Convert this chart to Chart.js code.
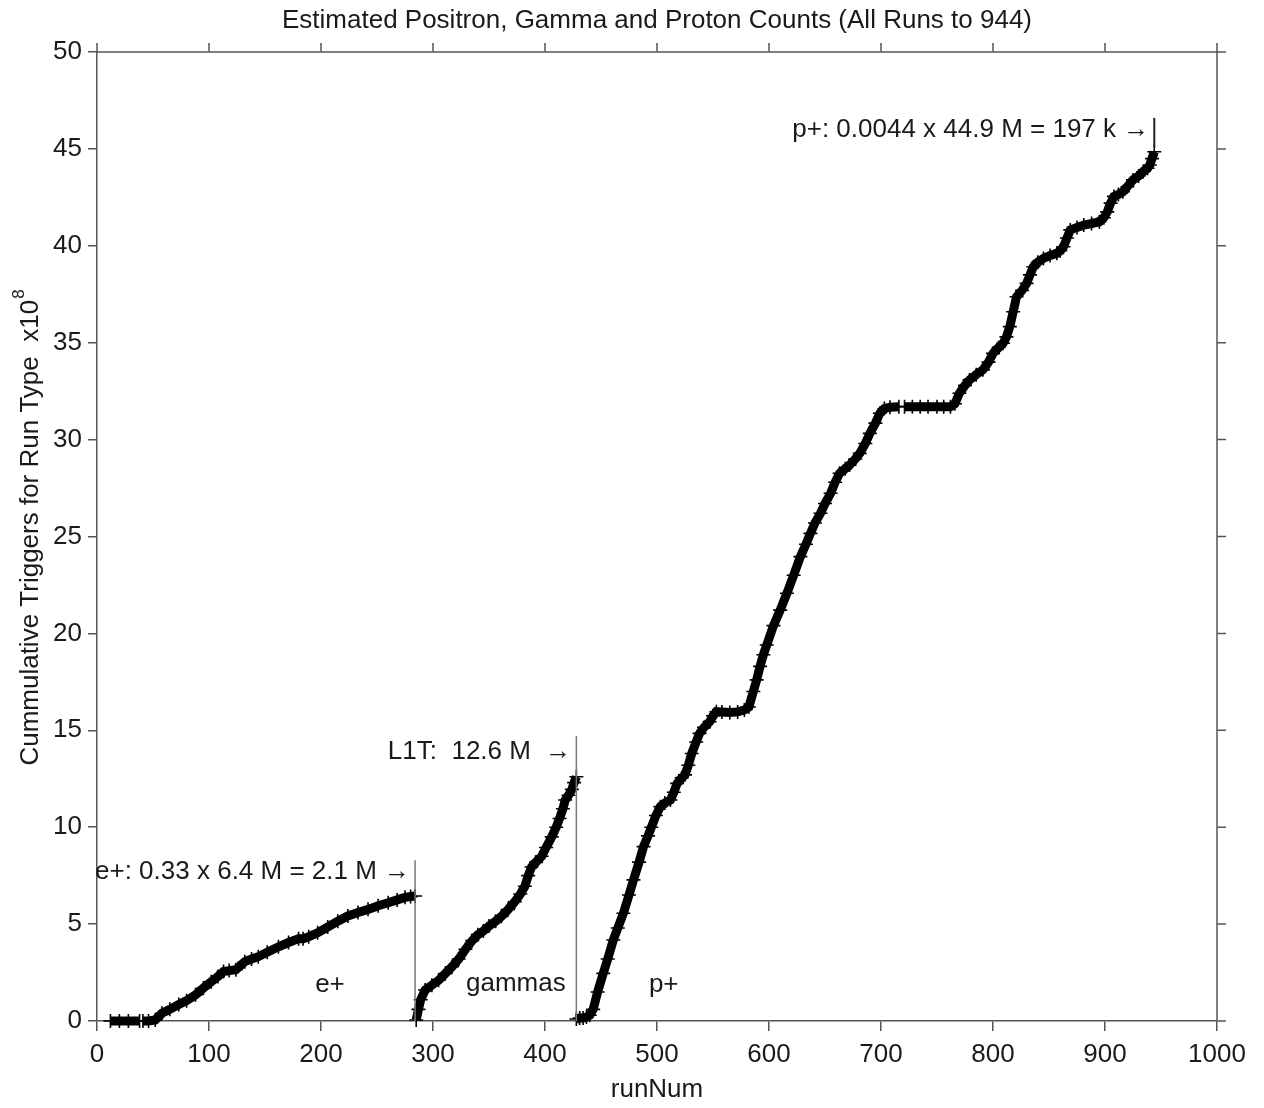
<!DOCTYPE html>
<html>
<head>
<meta charset="utf-8">
<title>Estimated Positron, Gamma and Proton Counts</title>
<script src="https://cdn.jsdelivr.net/npm/chart.js@4.4.1/dist/chart.umd.min.js"></script>
<style>
  html, body { margin: 0; padding: 0; background: #fff; }
  #wrap { width: 1264px; height: 1108px; position: relative; }
</style>
</head>
<body>
<div id="wrap"><canvas id="triggerChart" width="1264" height="1108"></canvas></div>
<script>
// cumulative triggers (x10^6) per run type, read run by run
const positronRuns = [12, 20, 28, 38, 39, 41, 46, 52, 58, 65, 73, 80, 88, 95, 102, 108, 113, 118, 124, 132, 138, 144, 152, 162, 171, 180, 184, 189, 197, 206, 215, 224, 233, 242, 251, 260, 268, 275, 280, 284];
const positronCounts = [0, 0, 0, 0, null, 0, 0, 0.05, 0.4, 0.6, 0.85, 1.05, 1.35, 1.7, 2.03, 2.3, 2.55, 2.6, 2.65, 3.06, 3.2, 3.32, 3.55, 3.83, 4.05, 4.25, 4.25, 4.35, 4.55, 4.85, 5.15, 5.42, 5.6, 5.76, 5.95, 6.1, 6.25, 6.38, 6.42, 6.45];

const gammaRuns = [285, 287, 289, 293, 299, 305, 311, 317, 323, 329, 335, 340, 345, 350, 356, 361, 367, 373, 378, 382, 385, 388, 392, 397, 401, 406, 410, 413, 416, 418, 421, 424, 426, 428];
const gammaCounts = [0.05, 0.6, 1.1, 1.6, 1.85, 2.1, 2.45, 2.8, 3.2, 3.7, 4.15, 4.45, 4.65, 4.9, 5.15, 5.4, 5.75, 6.15, 6.55, 6.95, 7.5, 7.95, 8.2, 8.5, 8.95, 9.5, 10.0, 10.45, 10.95, 11.4, 11.65, 11.95, 12.3, 12.6];

const protonRuns = [428, 431, 434, 437, 440, 443, 447, 452, 456, 461, 465, 470, 475, 479, 484, 488, 492, 495, 499, 503, 507, 512, 515, 518, 522, 525, 528, 531, 535, 538, 542, 547, 550, 553, 558, 565, 572, 578, 582, 586, 589, 592, 595, 598, 604, 610, 616, 622, 628, 633, 637, 641, 646, 650, 655, 659, 663, 668, 672, 677, 681, 686, 690, 695, 699, 703, 708, 716, 718, 721, 728, 735, 742, 750, 756, 762, 766, 770, 775, 779, 785, 791, 796, 800, 805, 809, 812, 815, 818, 821, 826, 830, 833, 836, 840, 845, 851, 857, 860, 863, 866, 869, 875, 881, 888, 895, 899, 902, 905, 908, 912, 916, 920, 925, 930, 934, 938, 940, 942, 944];
const protonCounts = [0.1, 0.15, 0.15, 0.2, 0.3, 0.6, 1.5, 2.46, 3.2, 4.18, 4.8, 5.56, 6.5, 7.28, 8.2, 9.0, 9.55, 10.0, 10.6, 11.06, 11.25, 11.4, 11.8, 12.26, 12.55, 12.7, 13.2, 13.8, 14.4, 14.84, 15.15, 15.44, 15.75, 15.96, 15.95, 15.92, 15.95, 16.05, 16.2, 17.0, 17.6, 18.3, 18.9, 19.4, 20.4, 21.2, 22.07, 23.0, 23.96, 24.6, 25.16, 25.7, 26.2, 26.7, 27.23, 27.8, 28.26, 28.5, 28.69, 29.0, 29.29, 29.8, 30.32, 30.85, 31.36, 31.6, 31.67, 31.7, null, 31.7, 31.7, 31.7, 31.7, 31.7, 31.7, 31.7, 31.85, 32.39, 32.8, 33.08, 33.35, 33.6, 34.0, 34.45, 34.75, 34.97, 35.3, 35.83, 36.6, 37.37, 37.7, 38.06, 38.5, 38.92, 39.15, 39.35, 39.5, 39.61, 39.75, 39.95, 40.4, 40.82, 40.95, 41.07, 41.15, 41.24, 41.45, 41.75, 42.2, 42.55, 42.65, 42.79, 43.05, 43.4, 43.6, 43.82, 44.0, 44.17, 44.5, 44.85];

// end-of-type markers: run, top of marker bar, bottom of bar
const markerRuns = [284, 428, 944];
const markerTops = [8.3, 14.7, 46.6];
const markerBottoms = [0, 0, 45.1];

// annotation text per marker (placed left of the bar), and its height on the y axis
const markerTexts = ['e+: 0.33 x 6.4 M = 2.1 M \u2192', 'L1T:  12.6 M  \u2192', 'p+: 0.0044 x 44.9 M = 197 k \u2192'];
const markerTextY = [7.7, 13.9, 46.0];

// run type names written under each curve
const typeNames = ['e+', 'gammas', 'p+'];
const typeNameRuns = [208, 374, 506];
const typeNameY = [1.85, 1.9, 1.85];

const xTicks = [0, 100, 200, 300, 400, 500, 600, 700, 800, 900, 1000];
const yTicks = [0, 5, 10, 15, 20, 25, 30, 35, 40, 45, 50];

const FONT = "'Liberation Sans', Arial, Helvetica, sans-serif";
const INK = '#1a1a1a';
const FRAME = '#555555';

function toPoints(runs, counts) {
    return runs.map((r, i) => ({ x: r, y: counts[i] }));
}

function curveDataset(runs, counts) {
    return {
        data: toPoints(runs, counts),
        borderColor: '#000',
        backgroundColor: '#000',
        borderWidth: 9,
        pointStyle: 'cross',
        pointRadius: 7,
        pointBorderWidth: 1.6,
        pointBorderColor: '#000',
        spanGaps: false,
        clip: 12,
        tension: 0
    };
}

const markerDatasets = markerRuns.map((r, i) => ({
    data: [{ x: r, y: markerBottoms[i] }, { x: r, y: markerTops[i] }],
    borderColor: i === 2 ? '#222' : '#777',
    borderWidth: i === 2 ? 2 : 1.5,
    pointRadius: 0
}));

// text, frame and mirrored tick marks drawn on top of the chart
const decorPlugin = {
    id: 'decor',
    afterDraw(chart) {
        const ctx = chart.ctx;
        const xs = chart.scales.x;
        const ys = chart.scales.y;
        const area = chart.chartArea;
        ctx.save();

        // right and top frame lines with outward ticks
        ctx.strokeStyle = FRAME;
        ctx.lineWidth = 1.5;
        ctx.beginPath();
        ctx.moveTo(area.left, area.top);
        ctx.lineTo(area.right, area.top);
        ctx.lineTo(area.right, area.bottom);
        xTicks.forEach(v => {
            const px = xs.getPixelForValue(v);
            ctx.moveTo(px, area.top);
            ctx.lineTo(px, area.top - 9);
        });
        yTicks.forEach(v => {
            const py = ys.getPixelForValue(v);
            ctx.moveTo(area.right, py);
            ctx.lineTo(area.right + 9, py);
        });
        ctx.stroke();

        ctx.fillStyle = INK;
        ctx.font = '26px ' + FONT;
        ctx.textBaseline = 'middle';

        // title
        ctx.textAlign = 'center';
        ctx.fillText('Estimated Positron, Gamma and Proton Counts (All Runs to 944)', (area.left + area.right) / 2, 21);

        // x axis title
        ctx.fillText('runNum', (area.left + area.right) / 2, 1090);

        // y axis title with superscript
        ctx.save();
        ctx.translate(31, 528);
        ctx.rotate(-Math.PI / 2);
        const main = 'Cummulative Triggers for Run Type  x10';
        ctx.font = '26px ' + FONT;
        const mw = ctx.measureText(main).width;
        ctx.font = '17px ' + FONT;
        const sw = ctx.measureText('8').width;
        const start = -(mw + sw) / 2;
        ctx.textAlign = 'left';
        ctx.font = '26px ' + FONT;
        ctx.fillText(main, start, 0);
        ctx.font = '17px ' + FONT;
        ctx.fillText('8', start + mw + 1, -12);
        ctx.restore();

        // annotations at the end of each run type
        ctx.font = '26px ' + FONT;
        ctx.textAlign = 'right';
        markerTexts.forEach((t, i) => {
            const px = xs.getPixelForValue(markerRuns[i]);
            const py = ys.getPixelForValue(markerTextY[i]);
            ctx.fillText(t, px - 5, py);
        });

        // run type names
        ctx.textAlign = 'center';
        typeNames.forEach((t, i) => {
            ctx.fillText(t, xs.getPixelForValue(typeNameRuns[i]), ys.getPixelForValue(typeNameY[i]));
        });

        ctx.restore();
    }
};

new Chart(document.getElementById('triggerChart'), {
    type: 'line',
    data: {
        datasets: [
            ...markerDatasets,
            curveDataset(positronRuns, positronCounts),
            curveDataset(gammaRuns, gammaCounts),
            curveDataset(protonRuns, protonCounts)
        ]
    },
    options: {
        responsive: false,
        animation: false,
        events: [],
        layout: { padding: { top: 52, right: 47, left: 0, bottom: 0 } },
        plugins: {
            legend: { display: false },
            title: { display: false },
            tooltip: { enabled: false }
        },
        scales: {
            x: {
                type: 'linear',
                min: 0,
                max: 1000,
                afterBuildTicks: s => { s.ticks = xTicks.map(v => ({ value: v })); },
                afterFit: s => { s.height = 87; },
                border: { display: true, color: FRAME, width: 1.5 },
                grid: { drawOnChartArea: false, drawTicks: true, tickLength: 10, color: FRAME, lineWidth: 1.5 },
                ticks: { color: INK, padding: 8, maxRotation: 0, font: { family: FONT, size: 26 }, callback: v => String(v) }
            },
            y: {
                type: 'linear',
                min: 0,
                max: 50,
                afterBuildTicks: s => { s.ticks = yTicks.map(v => ({ value: v })); },
                afterFit: s => { s.width = 97; },
                border: { display: true, color: FRAME, width: 1.5 },
                grid: { drawOnChartArea: false, drawTicks: true, tickLength: 9, color: FRAME, lineWidth: 1.5 },
                ticks: { color: INK, padding: 6, font: { family: FONT, size: 26 }, callback: v => String(v) }
            }
        }
    },
    plugins: [decorPlugin]
});
</script>
</body>
</html>
